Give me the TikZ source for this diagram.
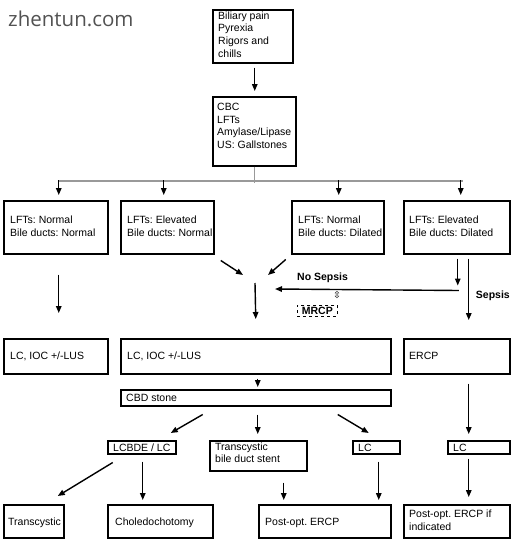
\documentclass[tikz,border=0pt]{standalone}
\usepackage{fontspec}
\setmainfont{Liberation Sans}
\newfontfamily\wmfont{Open Sans}
\newfontfamily\symfont{DejaVu Sans}
\usetikzlibrary{arrows.meta,calc}
\frenchspacing
\begin{document}
\begin{tikzpicture}[x=1pt,y=-1pt,
  box/.style={draw,line width=1.5pt,inner sep=0pt,anchor=north west},
  txt/.style={inner sep=0pt,align=left,anchor=north west,font=\fontsize{10.5}{12.6}\selectfont\frenchspacing},
  btxt/.style={inner sep=0pt,anchor=base west,font=\fontsize{10.5}{12.6}\selectfont\frenchspacing},
  lbl/.style={inner sep=0pt,anchor=base west,font=\fontsize{10.5}{12.6}\selectfont\bfseries},
  arr/.style={line width=1.4pt,-{Triangle[length=7pt,width=5.5pt]}},
  hub/.style={line width=1.4pt,black!40}]
\useasboundingbox (0,0) rectangle (514,546);
% watermark
\node[inner sep=0pt,anchor=base west,font=\wmfont\fontsize{20.5}{22}\selectfont,text=black!68] (wm) at (8,26.7) {zhentun.com};
% boxes
\node[box,minimum width=80pt,minimum height=53pt] (b1) at (212,9) {};
\node[box,minimum width=83pt,minimum height=69pt] (b2) at (212,96) {};
\node[box,minimum width=104pt,minimum height=53pt] (A) at (3,200) {};
\node[box,minimum width=93pt,minimum height=53pt] (B) at (120,200) {};
\node[box,minimum width=92pt,minimum height=53pt] (C) at (291,200) {};
\node[box,minimum width=106pt,minimum height=53pt] (D) at (403,200) {};
\node[box,minimum width=104pt,minimum height=35pt] (E) at (3,338) {};
\node[box,minimum width=270pt,minimum height=35pt] (F) at (120,338) {};
\node[box,minimum width=106pt,minimum height=35pt] (G) at (403,338) {};
\node[box,minimum width=270pt,minimum height=16pt] (cbd) at (120,389) {};
\node[box,minimum width=68pt,minimum height=13pt] (lcbde) at (107,440) {};
\node[box,minimum width=97pt,minimum height=30pt] (stent) at (209,440) {};
\node[box,minimum width=47pt,minimum height=13pt] (lc1) at (352,440) {};
\node[box,minimum width=62pt,minimum height=13pt] (lc2) at (447,440) {};
\node[box,minimum width=60pt,minimum height=33pt] (t1) at (3,504) {};
\node[box,minimum width=105pt,minimum height=33pt] (t2) at (107,504) {};
\node[box,minimum width=132pt,minimum height=33pt] (t3) at (258,504) {};
\node[box,minimum width=106pt,minimum height=33pt] (t4) at (403,504) {};
\node[draw,dashed,line width=0.7pt,inner sep=0pt,minimum width=40pt,minimum height=11pt,anchor=north west,font=\fontsize{10.5}{12.6}\selectfont\bfseries] (mrcp) at (297,305) {MRCP};
% texts
\node[txt] (b1t) at ([shift={(6,2.5)}]b1.north west) {Biliary pain\\Pyrexia\\Rigors and\\chills};
\node[txt] (b2t) at ([shift={(5,7)}]b2.north west) {CBC\\LFTs\\Amylase/Lipase\\US: Gallstones};
\node[txt] (At) at ([shift={(7,16)}]A.north west) {LFTs: Normal\\Bile ducts: Normal};
\node[txt] (Bt) at ([shift={(7,16)}]B.north west) {LFTs: Elevated\\Bile ducts: Normal};
\node[txt] (Ct) at ([shift={(7,16)}]C.north west) {LFTs: Normal\\Bile ducts: Dilated};
\node[txt] (Dt) at ([shift={(6,16)}]D.north west) {LFTs: Elevated\\Bile ducts: Dilated};
\node[txt] (Et) at ([shift={(7,14)}]E.north west) {LC, IOC +/-LUS};
\node[txt] (Ft) at ([shift={(7,14)}]F.north west) {LC, IOC +/-LUS};
\node[txt] (Gt) at ([shift={(6,14)}]G.north west) {ERCP};
\node[btxt] (cbdt) at ([shift={(6,4)}]cbd.west) {CBD stone};
\node[btxt] (lcbdet) at ([shift={(6,3.8)}]lcbde.west) {LCBDE / LC};
\node[txt] (stentt) at ([shift={(6,2.5)}]stent.north west) {Transcystic\\bile duct stent};
\node[btxt] (lc1t) at ([shift={(6,3.8)}]lc1.west) {LC};
\node[btxt] (lc2t) at ([shift={(6,3.8)}]lc2.west) {LC};
\node[btxt] (t1t) at ([shift={(5,4)}]t1.west) {Transcystic};
\node[btxt] (t2t) at ([shift={(8,4)}]t2.west) {Choledochotomy};
\node[btxt] (t3t) at ([shift={(7,4)}]t3.west) {Post-opt. ERCP};
\node[txt] (t4t) at ([shift={(6,6)}]t4.north west) {Post-opt. ERCP if\\indicated};
% merge point
\coordinate (mg) at (255,279);
% connectors
\draw[arr] ([shift={(2,4)}]b1.south) -- ([shift={(0.5,-5)}]b2.north);
\draw[hub] (b2.south) -- ++(0,16) coordinate (hubpt);
\draw[hub] ([shift={(2,-19)}]A.north) -- ([shift={(6,-19)}]D.north);
\draw[arr] ([shift={(3,-19.6)}]A.north) -- ([shift={(3,-5)}]A.north);
\draw[arr] ([shift={(-3.5,-19.6)}]B.north) -- ([shift={(-3.5,-5)}]B.north);
\draw[arr] ([shift={(1,-19.6)}]C.north) -- ([shift={(1,-5)}]C.north);
\draw[arr] ([shift={(4,-19.6)}]D.north) -- ([shift={(4,-5)}]D.north);
\draw[arr] ([shift={(3,20)}]A.south) -- ([shift={(3,-25)}]E.north);
\draw[arr] ([shift={(53.5,6)}]B.south) -- ([shift={(-12,-4)}]mg);
\draw[arr] ([shift={(-52,5)}]C.south) -- ([shift={(13,-4)}]mg);
\draw[arr] ([shift={(0,4)}]mg) -- ([shift={(0,-19)}]F.north);
\draw[arr] ([shift={(1,4)}]D.south) -- ([shift={(1,31)}]D.south);
\draw[arr] ([shift={(2,36)}]D.south) -- ([shift={(20,10)}]mg);
\draw[arr] ([shift={(12,4)}]D.south) -- ([shift={(12,-18)}]G.north);
\draw[arr] ([shift={(2,4)}]F.south) -- ([shift={(2,-2)}]cbd.north);
\draw[arr] ([shift={(-53,8)}]cbd.south) -- ([shift={(29,-7)}]lcbde.north);
\draw[arr] ([shift={(2,8)}]cbd.south) -- ([shift={(-0.5,-6)}]stent.north);
\draw[arr] ([shift={(82,8)}]cbd.south) -- ([shift={(-7.5,-7)}]lc1.north);
\draw[arr] ([shift={(12,9)}]G.south) -- ([shift={(-10,-6)}]lc2.north);
\draw[arr] ([shift={(-29,8)}]lcbde.south) -- ([shift={(24,-8)}]t1.north);
\draw[arr] ([shift={(1,7)}]lcbde.south) -- ([shift={(-17.5,-4)}]t2.north);
\draw[arr] ([shift={(25.5,11)}]stent.south) -- ([shift={(-41,-4)}]t3.north);
\draw[arr] ([shift={(2.5,7)}]lc1.south) -- ([shift={(54,-4)}]t3.north);
\draw[arr] ([shift={(-10,4)}]lc2.south) -- ([shift={(12,-7)}]t4.north);
% labels
\node[lbl] (nosep) at ([shift={(42,1)}]mg) {No Sepsis};
\node[lbl] (sep) at ([shift={(19,44)}]D.south) {Sepsis};
\node[inner sep=0pt,font=\symfont\fontsize{9.5}{10}\selectfont] (ud) at (337,295.5) {⇳};
\end{tikzpicture}
\end{document}
